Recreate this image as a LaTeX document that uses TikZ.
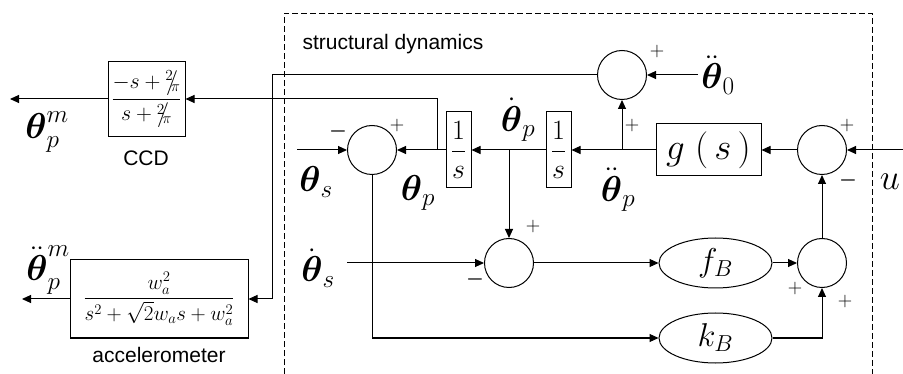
\RequirePackage{fix-cm}
\documentclass[tikz,border=0pt]{standalone}
\usepackage{amsmath}
\usepackage{fontspec}
\setmainfont{Liberation Sans}
\usepackage{tikz}
\usetikzlibrary{positioning,arrows.meta,shapes.geometric}
\newcommand{\slfrac}[2]{{}^{#1}\!\!\big/\!\!{}_{#2}}

\begin{document}
\begin{tikzpicture}[x=1pt,y=-1pt,on grid,
      line width=1pt,
      sumc/.style={draw,circle,minimum size=49pt,inner sep=0pt},
      blk/.style={draw,rectangle,inner sep=0pt},
      intg/.style={blk,minimum width=25pt,minimum height=76pt,font=\fontsize{28}{32}\selectfont},
      dyn/.style={draw,ellipse,minimum width=113pt,minimum height=50pt,inner sep=0pt,
                  font=\fontsize{33}{36}\selectfont},
      sig/.style={font=\fontsize{36}{40}\selectfont,inner sep=0pt},
      pm/.style={font=\fontsize{20}{22}\selectfont,inner sep=0pt},
      captxt/.style={font=\fontsize{21}{24}\selectfont,inner sep=0pt},
      ar/.style={-{Triangle[length=9pt,width=8pt]}}]
    \useasboundingbox (0,0) rectangle (903,374);

    % structural dynamics frame
    \draw[line width=0.9pt,dash pattern=on 6pt off 3pt] (284,374) -- (284,13) -- (872,13) -- (872,374);
    \node[captxt,anchor=west] (sdyn) at (302,44) {structural dynamics};

    % main loop
    \node[sumc] (s1) at (372,150) {};
    \node[intg,right=86.5pt of s1] (int1) {$\dfrac{1}{s}$};
    \node[intg,right=100pt of int1] (int2) {$\dfrac{1}{s}$};
    \node[blk,minimum width=105pt,minimum height=52pt,right=150pt of int2,
          font=\fontsize{37}{40}\selectfont] (gs) {$g\;(\,s\,)$};
    \node[sumc,right=113.5pt of gs] (s3) {};
    \node[sumc,below=113pt of s3] (s4) {};
    \node[dyn,left=106.5pt of s4] (fb) {$f_B$};
    \node[dyn,below=75pt of fb] (kb) {$k_B$};
    \node[sumc] (s2) at (509,263) {};
    \node[sumc] (s0) at (622,75) {};

    % sensors
    \node[blk,minimum width=77pt,minimum height=75pt,font=\fontsize{22}{26}\selectfont] (ccd) at (146.5,99)
         {$\dfrac{-s+\slfrac{2}{\pi}}{s+\slfrac{2}{\pi}}$};
    \node[captxt] (ccdcap) at (146,158) {CCD};
    \node[blk,minimum width=178pt,minimum height=78pt,font=\fontsize{21}{25}\selectfont] (acc) at (159,299)
         {$\dfrac{w_a^2}{s^2+\sqrt{2}w_a s+w_a^2}$};
    \node[captxt] (acccap) at (159,355) {accelerometer};

    % signals
    \node[sig] (ths_l) at (316,182) {$\boldsymbol{\theta}_s$};
    \node[sig] (thp_l) at (418,193) {$\boldsymbol{\theta}_p$};
    \node[sig] (thpd_l) at (518,120) {$\dot{\boldsymbol{\theta}}_p$};
    \node[sig] (thpdd_l) at (618,190) {$\ddot{\boldsymbol{\theta}}_p$};
    \node[sig] (th0) at (718,75) {$\ddot{\boldsymbol{\theta}}_0$};
    \node[sig] (thsd_l) at (318,268) {$\dot{\boldsymbol{\theta}}_s$};
    \node[sig] (thpm_l) at (47,132) {$\boldsymbol{\theta}_p^m$};
    \node[sig] (thpddm_l) at (48,270) {$\ddot{\boldsymbol{\theta}}_p^m$};
    \node[sig] (u_l) at (890,182) {$u$};

    % signs
    \node[pm] (m1) at (338,132) {$\boldsymbol{-}$};
    \node[pm] (p1) at (397,126) {$+$};
    \node[pm] (p0) at (657,52) {$+$};
    \node[pm] (p3) at (632,126) {$+$};
    \node[pm] (p4) at (847,126) {$+$};
    \node[pm] (m4) at (848,181) {$\boldsymbol{-}$};
    \node[pm] (p2) at (533,227) {$+$};
    \node[pm] (m2) at (475,280) {$\boldsymbol{-}$};
    \node[pm] (p5) at (795,289) {$+$};
    \node[pm] (p6) at (845,302) {$+$};

    \coordinate (j1) at (437,150);
    \coordinate (j2) at (s2 |- int1);
    \coordinate (j3) at (s0 |- gs);
    \coordinate (c1) at (272,75);
    \coordinate (ths) at (297,150);
    \coordinate (thsd) at (347,263);
    \coordinate (uin) at (903,150);
    \coordinate (out1) at (10,99);
    \coordinate (out2) at (22,299);
    \coordinate (th0in) at (698,75);

    \draw[ar] (ths) -- (s1);
    \draw[ar] (int1) -- (s1);
    \draw[ar] (int2) -- (int1);
    \draw[ar] (gs) -- (int2);
    \draw[ar] (s3) -- (gs);
    \draw[ar] (uin) -- (s3);
    \draw[ar] (s4) -- (s3);
    \draw[ar] (j3) -- (s0);
    \draw[ar] (th0in) -- (s0);
    \draw[ar] (s0) -- (c1) |- (acc.east);
    \draw[ar] (j1) |- (ccd.east);
    \draw[ar] (j2) -- (s2);
    \draw[ar] (thsd) -- (s2);
    \draw[ar] (s2) -- (fb);
    \draw[ar] (fb) -- (s4);
    \draw[ar] (s1.south) |- (kb.west);
    \draw[ar] (kb.east) -| (s4.south);
    \draw[ar] (ccd.west) -- (out1);
    \draw[ar] (acc.west) -- (out2);
  \end{tikzpicture}
\end{document}
